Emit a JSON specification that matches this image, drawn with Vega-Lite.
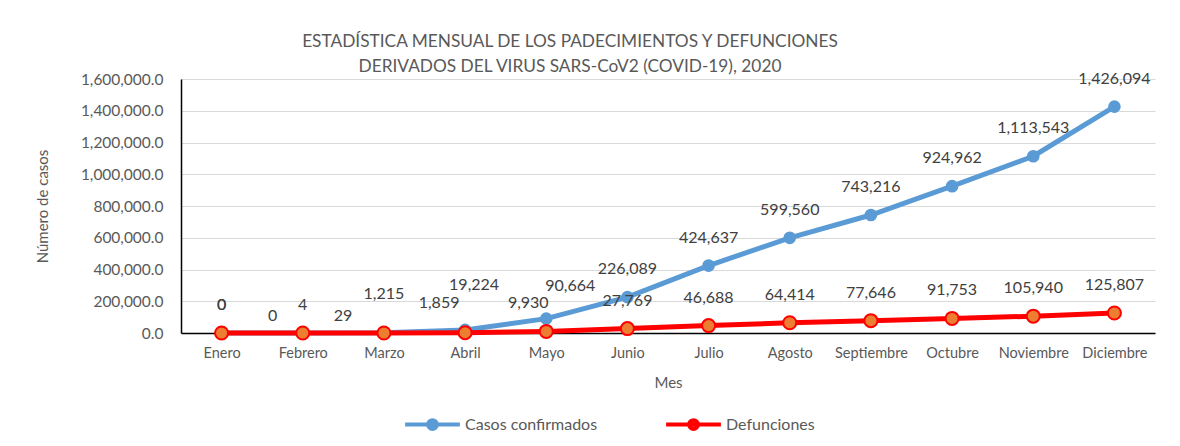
{
  "$schema": "https://vega.github.io/schema/vega-lite/v6.json",
  "width": 974,
  "height": 254,
  "autosize": "none",
  "padding": {"left": 181, "top": 79, "right": 25, "bottom": 113},
  "background": "white",
  "title": {
    "text": ["ESTADÍSTICA MENSUAL DE LOS PADECIMIENTOS Y DEFUNCIONES", "DERIVADOS DEL VIRUS SARS-CoV2 (COVID-19), 2020"],
    "font": "Lato", "fontSize": 17.3, "fontWeight": "normal", "color": "#595959",
    "lineHeight": 25, "dx": -98, "offset": -5, "anchor": "middle"
  },
  "config": {
    "view": {"stroke": null},
    "font": "Lato",
    "axis": {"labelFont": "Lato", "titleFont": "Lato", "labelColor": "#595959", "titleColor": "#595959", "titleFontWeight": "normal", "titleFontSize": 15}
  },
  "data": {"values": [
    {"mes": "Enero", "serie": "Casos confirmados", "valor": 0},
    {"mes": "Febrero", "serie": "Casos confirmados", "valor": 4},
    {"mes": "Marzo", "serie": "Casos confirmados", "valor": 1215},
    {"mes": "Abril", "serie": "Casos confirmados", "valor": 19224},
    {"mes": "Mayo", "serie": "Casos confirmados", "valor": 90664},
    {"mes": "Junio", "serie": "Casos confirmados", "valor": 226089},
    {"mes": "Julio", "serie": "Casos confirmados", "valor": 424637},
    {"mes": "Agosto", "serie": "Casos confirmados", "valor": 599560},
    {"mes": "Septiembre", "serie": "Casos confirmados", "valor": 743216},
    {"mes": "Octubre", "serie": "Casos confirmados", "valor": 924962},
    {"mes": "Noviembre", "serie": "Casos confirmados", "valor": 1113543},
    {"mes": "Diciembre", "serie": "Casos confirmados", "valor": 1426094},
    {"mes": "Enero", "serie": "Defunciones", "valor": 0},
    {"mes": "Febrero", "serie": "Defunciones", "valor": 0},
    {"mes": "Marzo", "serie": "Defunciones", "valor": 29},
    {"mes": "Abril", "serie": "Defunciones", "valor": 1859},
    {"mes": "Mayo", "serie": "Defunciones", "valor": 9930},
    {"mes": "Junio", "serie": "Defunciones", "valor": 27769},
    {"mes": "Julio", "serie": "Defunciones", "valor": 46688},
    {"mes": "Agosto", "serie": "Defunciones", "valor": 64414},
    {"mes": "Septiembre", "serie": "Defunciones", "valor": 77646},
    {"mes": "Octubre", "serie": "Defunciones", "valor": 91753},
    {"mes": "Noviembre", "serie": "Defunciones", "valor": 105940},
    {"mes": "Diciembre", "serie": "Defunciones", "valor": 125807}
  ]},
  "encoding": {
    "x": {
      "field": "mes", "type": "nominal",
      "sort": ["Enero","Febrero","Marzo","Abril","Mayo","Junio","Julio","Agosto","Septiembre","Octubre","Noviembre","Diciembre"],
      "scale": {"type": "point", "padding": 0.5},
      "axis": {"title": "Mes", "titleFontSize": 15, "titlePadding": 16, "labelFontSize": 14.5, "labelAngle": 0, "labelPadding": 13, "ticks": false, "domainColor": "#000000", "domainWidth": 1.5, "grid": false}
    },
    "y": {
      "field": "valor", "type": "quantitative",
      "scale": {"domain": [0, 1600000], "nice": false},
      "axis": {"title": "Número de casos", "titleFontSize": 15, "titlePadding": 30, "labelFontSize": 15.5, "labelPadding": 18, "format": ",.1f", "values": [0,200000,400000,600000,800000,1000000,1200000,1400000,1600000], "ticks": false, "domainColor": "#000000", "domainWidth": 1.5, "grid": true, "gridColor": "#d9d9d9", "gridWidth": 1.2}
    }
  },
  "layer": [
    {
      "transform": [{"filter": "datum.serie === 'Casos confirmados'"}],
      "mark": {"type": "line", "strokeWidth": 5},
      "encoding": {
        "color": {
          "field": "serie", "type": "nominal",
          "scale": {"domain": ["Casos confirmados", "Defunciones"], "range": ["#5B9BD5", "#FF0000"]},
          "legend": {
            "title": null, "orient": "none", "direction": "horizontal", "legendX": 222, "legendY": 316,
            "symbolType": "M-1,0H1M0.16,0A0.16,0.16,0,1,1,-0.16,0A0.16,0.16,0,1,1,0.16,0",
            "symbolSize": 3000, "symbolStrokeWidth": 4, "labelFontSize": 16, "labelColor": "#595959", "labelFont": "Lato",
            "labelOffset": 3, "columnPadding": 60,
            "encode": {"symbols": {"update": {
              "fill": {"signal": "datum.value === 'Defunciones' ? '#ED7D31' : '#5B9BD5'"},
              "stroke": {"signal": "datum.value === 'Defunciones' ? '#FF0000' : '#5B9BD5'"},
              "strokeWidth": {"value": 4}
            }}}
          }
        }
      }
    },
    {
      "transform": [{"filter": "datum.serie === 'Casos confirmados'"}],
      "mark": {"type": "point", "filled": true, "size": 160, "color": "#5B9BD5", "opacity": 1}
    },
    {
      "transform": [{"filter": "datum.serie === 'Defunciones'"}],
      "mark": {"type": "line", "strokeWidth": 5},
      "encoding": {"color": {"field": "serie", "type": "nominal"}}
    },
    {
      "transform": [{"filter": "datum.serie === 'Defunciones'"}],
      "mark": {"type": "point", "filled": true, "size": 170, "fill": "#ED7D31", "stroke": "#FF0000", "strokeWidth": 2, "opacity": 1}
    },
    {
      "transform": [{"filter": "!(datum.serie === 'Defunciones' && indexof(['Febrero','Marzo','Abril','Mayo'], datum.mes) >= 0) && !(datum.serie === 'Casos confirmados' && indexof(['Marzo','Abril','Mayo'], datum.mes) >= 0)"}],
      "mark": {"type": "text", "baseline": "middle", "dy": -28, "fontSize": 16, "color": "#404040", "font": "Lato"},
      "encoding": {"text": {"field": "valor", "type": "quantitative", "format": ",d"}}
    },
    {
      "transform": [{"filter": "datum.serie === 'Defunciones' && datum.mes === 'Febrero'"}],
      "mark": {"type": "text", "baseline": "middle", "dx": -30, "dy": -17, "fontSize": 16, "color": "#404040", "font": "Lato"},
      "encoding": {"text": {"field": "valor", "type": "quantitative", "format": ",d"}}
    },
    {
      "transform": [{"filter": "datum.serie === 'Defunciones' && datum.mes === 'Marzo'"}],
      "mark": {"type": "text", "baseline": "middle", "dx": -41, "dy": -17, "fontSize": 16, "color": "#404040", "font": "Lato"},
      "encoding": {"text": {"field": "valor", "type": "quantitative", "format": ",d"}}
    },
    {
      "transform": [{"filter": "datum.serie === 'Defunciones' && datum.mes === 'Abril'"}],
      "mark": {"type": "text", "baseline": "middle", "dx": -26, "dy": -30, "fontSize": 16, "color": "#404040", "font": "Lato"},
      "encoding": {"text": {"field": "valor", "type": "quantitative", "format": ",d"}}
    },
    {
      "transform": [{"filter": "datum.serie === 'Defunciones' && datum.mes === 'Mayo'"}],
      "mark": {"type": "text", "baseline": "middle", "dx": -18, "dy": -28, "fontSize": 16, "color": "#404040", "font": "Lato"},
      "encoding": {"text": {"field": "valor", "type": "quantitative", "format": ",d"}}
    },
    {
      "transform": [{"filter": "datum.serie === 'Casos confirmados' && datum.mes === 'Marzo'"}],
      "mark": {"type": "text", "baseline": "middle", "dx": 0, "dy": -39, "fontSize": 16, "color": "#404040", "font": "Lato"},
      "encoding": {"text": {"field": "valor", "type": "quantitative", "format": ",d"}}
    },
    {
      "transform": [{"filter": "datum.serie === 'Casos confirmados' && datum.mes === 'Abril'"}],
      "mark": {"type": "text", "baseline": "middle", "dx": 9, "dy": -45, "fontSize": 16, "color": "#404040", "font": "Lato"},
      "encoding": {"text": {"field": "valor", "type": "quantitative", "format": ",d"}}
    },
    {
      "transform": [{"filter": "datum.serie === 'Casos confirmados' && datum.mes === 'Mayo'"}],
      "mark": {"type": "text", "baseline": "middle", "dx": 24, "dy": -33, "fontSize": 16, "color": "#404040", "font": "Lato"},
      "encoding": {"text": {"field": "valor", "type": "quantitative", "format": ",d"}}
    }
  ]
}
